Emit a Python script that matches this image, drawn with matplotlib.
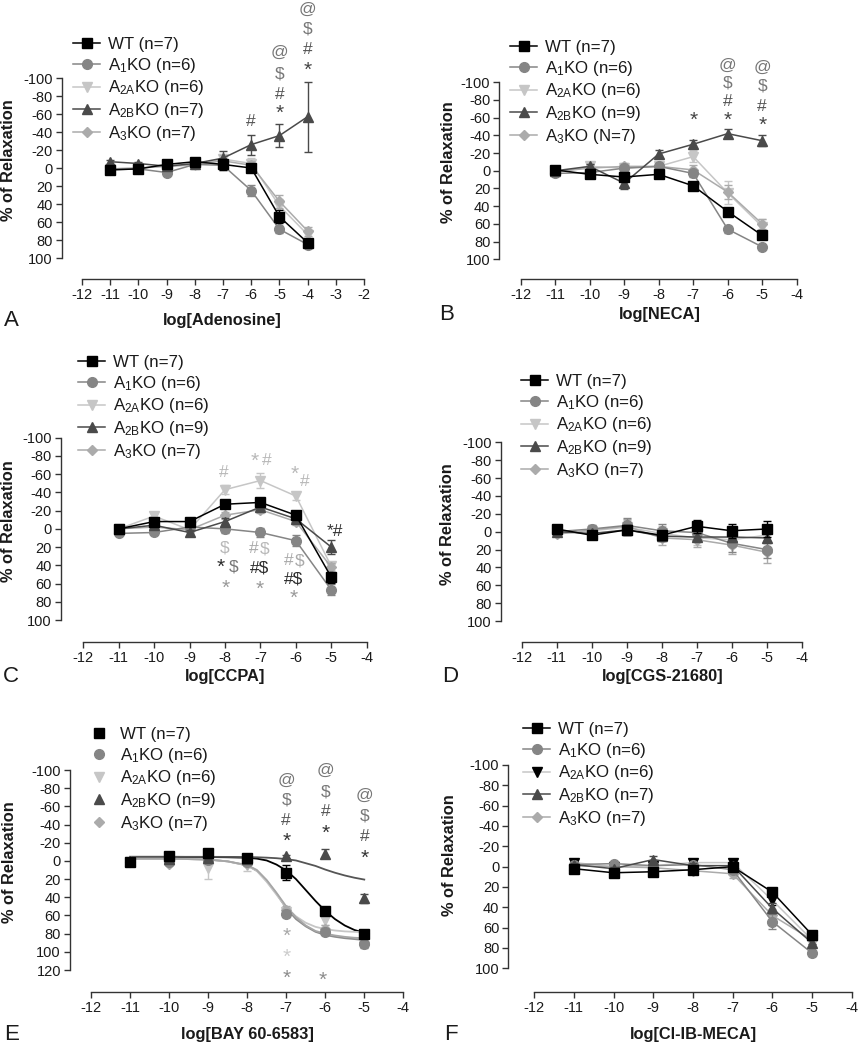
import matplotlib
matplotlib.use('Agg')
import matplotlib.pyplot as plt

plt.rcParams['font.family'] = ['Liberation Sans', 'DejaVu Sans']
plt.rcParams['mathtext.fontset'] = 'custom'
plt.rcParams['mathtext.rm'] = 'Liberation Sans'
plt.rcParams['mathtext.default'] = 'rm'
plt.rcParams['axes.unicode_minus'] = False

# ---------------- data ----------------
groups = ['WT', 'A1', 'A2A', 'A2B', 'A3']
names = ['WT', 'A$_1$KO', 'A$_{2A}$KO', 'A$_{2B}$KO', 'A$_3$KO']

# A: adenosine
ade_x = [-11, -10, -9, -8, -7, -6, -5, -4]
ade_n = ['n=7', 'n=6', 'n=6', 'n=7', 'n=7']
ade_wt = [2, 1, -4, -7, -4, 0, 54, 83]
ade_wt_err = [3, 3, 3, 4, 6, 4, 7, 4]
ade_a1 = [2, 1, 5, -4, -3, 25, 68, 85]
ade_a1_err = [2, 2, 3, 4, 5, 6, 4, 3]
ade_a2a = [1, 0, -2, -3, -10, -5, 42, 74]
ade_a2a_err = [2, 2, 3, 4, 6, 6, 8, 5]
ade_a2b = [-7, -5, -2, -5, -11, -26, -36, -57]
ade_a2b_err = [2, 2, 3, 4, 8, 11, 13, 39]
ade_a3 = [1, 0, -2, -4, -8, -3, 37, 70]
ade_a3_err = [2, 2, 3, 4, 6, 5, 7, 5]

# B: NECA
neca_x = [-11, -10, -9, -8, -7, -6, -5]
neca_n = ['n=7', 'n=6', 'n=6', 'n=9', 'N=7']
neca_wt = [-1, 4, 7, 4, 17, 46, 73]
neca_wt_err = [3, 3, 4, 3, 3, 3, 3]
neca_a1 = [3, 2, -3, -5, 3, 66, 86]
neca_a1_err = [2, 3, 4, 3, 4, 4, 2]
neca_a2a = [2, -5, -3, -5, -16, 25, 63]
neca_a2a_err = [2, 4, 4, 4, 6, 13, 8]
neca_a2b = [0, -5, 14, -19, -30, -42, -34]
neca_a2b_err = [2, 3, 7, 5, 5, 5, 6]
neca_a3 = [1, -3, -5, -5, -1, 24, 60]
neca_a3_err = [2, 3, 4, 4, 5, 8, 6]

# C: CCPA
ccpa_x = [-11, -10, -9, -8, -7, -6, -5]
ccpa_n = ['n=7', 'n=6', 'n=6', 'n=9', 'n=7']
ccpa_wt = [0, -8, -8, -27, -29, -15, 53]
ccpa_wt_err = [4, 4, 4, 4, 4, 4, 6]
ccpa_a1 = [5, 4, -2, 0, 4, 13, 67]
ccpa_a1_err = [2, 2, 3, 5, 5, 6, 6]
ccpa_a2a = [0, -14, 1, -43, -53, -36, 41]
ccpa_a2a_err = [2, 4, 4, 5, 8, 4, 4]
ccpa_a2b = [0, -4, 4, -8, -24, -11, 20]
ccpa_a2b_err = [2, 3, 3, 4, 4, 4, 8]
ccpa_a3 = [0, -2, 1, -15, -21, -8, 42]
ccpa_a3_err = [2, 3, 3, 4, 4, 4, 5]

# D: CGS-21680
cgs_x = [-11, -10, -9, -8, -7, -6, -5]
cgs_n = ['n=7', 'n=6', 'n=6', 'n=9', 'n=7']
cgs_wt = [-3, 4, -2, 4, -6, -1, -3]
cgs_wt_err = [3, 3, 6, 5, 7, 8, 9]
cgs_a1 = [0, -3, -7, -1, 1, 13, 20]
cgs_a1_err = [2, 5, 8, 8, 8, 10, 10]
cgs_a2a = [2, -1, -5, 2, 7, 9, 4]
cgs_a2a_err = [2, 4, 8, 8, 8, 8, 8]
cgs_a2b = [0, 2, -2, 5, 6, 6, 7]
cgs_a2b_err = [2, 3, 5, 5, 5, 6, 6]
cgs_a3 = [3, -2, -6, 7, 9, 15, 23]
cgs_a3_err = [2, 5, 8, 8, 8, 10, 12]

# E: BAY 60-6583 (points + fitted curves)
bay_x = [-11, -10, -9, -8, -7, -6, -5]
bay_n = ['n=7', 'n=6', 'n=6', 'n=9', 'n=7']
bay_wt = [1, -5, -9, -3, 13, 55, 80]
bay_wt_err = [2, 2, 3, 4, 8, 4, 3]
bay_a1 = [1, 1, -1, 1, 58, 78, 91]
bay_a1_err = [2, 2, 3, 3, 4, 4, 5]
bay_a2a = [1, 0, 8, 5, 56, 65, 85]
bay_a2a_err = [2, 2, 12, 6, 5, 5, 4]
bay_a2b = [0, -2, -3, -2, -5, -8, 41]
bay_a2b_err = [1, 1, 1, 2, 2, 5, 5]
bay_a3 = [0, 3, -1, 3, 54, 75, 89]
bay_a3_err = [2, 2, 3, 3, 4, 4, 4]
bay_fit_x = [-11, -10, -9, -8.5, -8, -7.75, -7.5, -7.25, -7, -6.75, -6.5, -6.25, -6, -5.75, -5.5, -5.25, -5]
bay_fit_wt = [-4.5, -4.5, -4.3, -4, -3.5, -2.5, -0.5, 4, 10.5, 20, 32, 44, 55, 64, 71, 76, 79]
bay_fit_a1 = [-2.5, -2.5, -1.5, 0.5, 5, 11, 22, 36, 52, 64, 72, 78, 81.5, 83.5, 85, 86, 87]
bay_fit_a2a = [-2.5, -2.5, -1.5, 0.5, 5, 11, 23, 37, 51, 61, 68, 72.5, 75, 76.5, 77.5, 78, 78.5]
bay_fit_a2b = [-4.5, -4.5, -4.5, -4.4, -4.2, -4, -3.6, -3, -2, -0.5, 2.5, 5.5, 9.5, 13, 16, 18.5, 20.5]
bay_fit_a3 = [-2.5, -2.5, -1.5, 0.5, 4.5, 10, 21, 35, 50, 62, 71, 77, 80, 82, 83.5, 84.5, 85]

# F: Cl-IB-MECA
meca_x = [-11, -10, -9, -8, -7, -6, -5]
meca_n = ['n=7', 'n=6', 'n=6', 'n=7', 'n=7']
meca_wt = [2, 6, 5, 3, 0, 25, 67]
meca_wt_err = [3, 3, 3, 3, 3, 4, 4]
meca_a1 = [-2, -3, -1, -2, 3, 54, 85]
meca_a1_err = [2, 2, 2, 2, 3, 7, 3]
meca_a2a = [-4, 0, -1, -4, -4, 33, 72]
meca_a2a_err = [2, 2, 2, 2, 3, 5, 4]
meca_a2b = [-2, 2, -7, -1, -1, 41, 75]
meca_a2b_err = [2, 2, 3, 3, 3, 5, 4]
meca_a3 = [-1, 0, 1, 4, 7, 48, 72]
meca_a3_err = [2, 2, 2, 3, 4, 6, 4]

# significance marks: (x, y, text, color)
LT, MD, GR, DK = '#b8b8b8', '#999999', '#777777', '#2b2b2b'
ade_marks = [(-6, -52, '#', '#555555'),
             (-5, -128, '@', GR), (-5, -104, '$', GR), (-5, -82, '#', '#555555'), (-5, -61, '*', '#444444'),
             (-4, -176, '@', GR), (-4, -154, '$', GR), (-4, -132, '#', '#555555'), (-4, -109, '*', '#444444')]
neca_marks = [(-7, -57, '*', '#444444'),
              (-6, -119, '@', GR), (-6, -99, '$', GR), (-6, -78, '#', '#555555'), (-6, -57, '*', '#444444'),
              (-5, -117, '@', GR), (-5, -96, '$', GR), (-5, -73, '#', '#555555'), (-5, -51, '*', '#444444')]
ccpa_marks = [(-8.03, -62, '#', LT), (-8, 21, '$', LT), (-8.12, 42, '*', DK), (-7.76, 42, '$', GR),
              (-7.97, 65, '*', MD),
              (-7.15, -74, '*', LT), (-6.82, -75, '#', LT), (-7.2, 22, '#', '#aaaaaa'), (-6.87, 22, '$', LT),
              (-7.03, 43, '#$', DK), (-7.03, 66, '*', MD),
              (-6.02, -60, '*', LT), (-5.74, -52, '#', LT), (-6.21, 35, '#', '#aaaaaa'), (-5.88, 35, '$', '#aaaaaa'),
              (-6.07, 55, '#$', DK), (-6.05, 76, '*', MD),
              (-4.9, 3, '*#', '#333333')]
bay_marks = [(-7, -89, '@', GR), (-7, -67, '$', GR), (-7, -44, '#', '#555555'), (-7, -21, '*', '#333333'),
             (-7, 83, '*', '#a8a8a8'), (-7, 106, '*', '#cccccc'), (-7, 129, '*', '#8c8c8c'),
             (-6, -100, '@', GR), (-6, -76, '$', GR), (-6, -54, '#', '#555555'), (-6, -30, '*', '#333333'),
             (-6.06, 131, '*', '#8c8c8c'),
             (-5, -72, '@', GR), (-5, -49, '$', GR), (-5, -27, '#', '#555555'), (-5, -3, '*', '#333333')]

# ---------------- styles ----------------
style = {
    'WT': dict(color='#000000', marker='s', ms=7.5, z=10),
    'A1': dict(color='#858585', marker='o', ms=7, z=6),
    'A2A': dict(color='#c6c6c6', marker='v', ms=7, z=4),
    'A2B': dict(color='#4a4a4a', marker='^', ms=7, z=7),
    'A3': dict(color='#ababab', marker='D', ms=4.8, z=5),
}

W, H = 859, 1050
fig = plt.figure(figsize=(W / 100, H / 100), dpi=100)


def px(x, y):
    return x / W, 1 - y / H


def make_axes(box, xlim, ylim, xticks, yticks):
    l, r, t, b = box
    ax = fig.add_axes([l / W, 1 - b / H, (r - l) / W, (b - t) / H])
    ax.set_xlim(*xlim)
    ax.set_ylim(*ylim)
    for s in ['top', 'right']:
        ax.spines[s].set_visible(False)
    for s in ['left', 'bottom']:
        ax.spines[s].set_linewidth(1.0)
        ax.spines[s].set_color('#333333')
    ax.spines['left'].set_bounds(yticks[0], yticks[-1])
    ax.spines['bottom'].set_bounds(xticks[0], xticks[-1])
    ax.set_xticks(xticks)
    ax.set_yticks(yticks)
    ax.tick_params(direction='out', length=4.5, width=1.0, color='#333333',
                   labelsize=10.5, labelcolor='#1a1a1a', pad=2)
    ax.patch.set_visible(False)
    return ax


def draw_series(ax, x, series, errs, lines=True, overrides=None):
    for g, y, e in zip(groups, series, errs):
        st = dict(style[g])
        if overrides and g in overrides:
            st.update(overrides[g])
        mcol = st.get('mcolor', st['color'])
        ax.errorbar(x, y, yerr=e, fmt='none', ecolor=mcol, elinewidth=1.0,
                    capsize=3, capthick=1.0, zorder=st['z'])
        ax.plot(x, y, color=st['color'], lw=1.1 if lines else 0,
                marker=st['marker'], ms=st['ms'], mfc=mcol, mec=mcol,
                zorder=st['z'] + 0.5)


def add_legend(ax, labels, anchor, lines=True, overrides=None):
    handles = []
    for g in groups:
        st = dict(style[g])
        if overrides and g in overrides:
            st.update(overrides[g])
        mcol = st.get('mcolor', st['color'])
        h, = ax.plot([], [], color=st['color'], lw=1.1 if lines else 0,
                     marker=st['marker'], ms=st['ms'], mfc=mcol, mec=mcol)
        handles.append(h)
    leg = ax.legend(handles, labels, loc='upper left', bbox_to_anchor=px(*anchor),
                    bbox_transform=fig.transFigure, frameon=False, fontsize=12.2,
                    handlelength=1.6, handletextpad=0.45, labelspacing=0.22,
                    borderpad=0, borderaxespad=0)
    for t in leg.get_texts():
        t.set_color('#1a1a1a')


def add_marks(ax, marks):
    for x, y, s, c in marks:
        fs = 15 if s == '*' else 12.5
        ax.text(x, y, s, ha='center', va='center', fontsize=fs, color=c, zorder=20)


def add_labels(letter, lpos, xlabel, xpos, ypos):
    fig.text(*px(*lpos), letter, fontsize=16, ha='center', va='center', color='#1a1a1a')
    fig.text(*px(*xpos), xlabel, fontsize=11.8, fontweight='bold', ha='center', va='center', color='#1a1a1a')
    fig.text(*px(*ypos), '% of Relaxation', fontsize=11.8, fontweight='bold', rotation=90,
             ha='center', va='center', color='#1a1a1a')


yt = list(range(-100, 101, 20))

# A
ax = make_axes((62, 364, 78, 279), (-12.71, -2), (123.3, -100), list(range(-12, -1)), yt)
draw_series(ax, ade_x, [ade_wt, ade_a1, ade_a2a, ade_a2b, ade_a3],
            [ade_wt_err, ade_a1_err, ade_a2a_err, ade_a2b_err, ade_a3_err])
add_legend(ax, [f'{a} ({n})' for a, n in zip(names, ade_n)], (73, 37))
add_marks(ax, ade_marks)
add_labels('A', (11, 320), 'log[Adenosine]', (222, 320), (9, 160))

# B
ax = make_axes((499.3, 796.7, 82.3, 279.3), (-12.62, -4), (122.6, -100), list(range(-12, -3)), yt)
draw_series(ax, neca_x, [neca_wt, neca_a1, neca_a2a, neca_a2b, neca_a3],
            [neca_wt_err, neca_a1_err, neca_a2a_err, neca_a2b_err, neca_a3_err])
add_legend(ax, [f'{a} ({n})' for a, n in zip(names, neca_n)], (510, 40))
add_marks(ax, neca_marks)
add_labels('B', (447, 314), 'log[NECA]', (660, 314), (449, 162))

# C
ax = make_axes((61, 366.7, 437.7, 641.7), (-12.63, -4), (123.8, -100), list(range(-12, -3)), yt)
draw_series(ax, ccpa_x, [ccpa_wt, ccpa_a1, ccpa_a2a, ccpa_a2b, ccpa_a3],
            [ccpa_wt_err, ccpa_a1_err, ccpa_a2a_err, ccpa_a2b_err, ccpa_a3_err])
add_legend(ax, [f'{a} ({n})' for a, n in zip(names, ccpa_n)], (78, 355))
add_marks(ax, ccpa_marks)
add_labels('C', (11, 676), 'log[CCPA]', (225, 676), (9, 521))

# D
ax = make_axes((501, 801.7, 442.3, 642.3), (-12.59, -4), (123.8, -100), list(range(-12, -3)), yt)
draw_series(ax, cgs_x, [cgs_wt, cgs_a1, cgs_a2a, cgs_a2b, cgs_a3],
            [cgs_wt_err, cgs_a1_err, cgs_a2a_err, cgs_a2b_err, cgs_a3_err])
add_legend(ax, [f'{a} ({n})' for a, n in zip(names, cgs_n)], (521, 374))
add_labels('D', (450, 676), 'log[CGS-21680]', (663, 676), (448, 524))

# E
ax = make_axes((70, 403.3, 770, 992.3), (-12.54, -4), (144.5, -100), list(range(-12, -3)),
               list(range(-100, 121, 20)))
fit_col = {'WT': '#000000', 'A1': '#8c8c8c', 'A2A': '#c6c6c6', 'A2B': '#555555', 'A3': '#a6a6a6'}
for g, fy in zip(groups, [bay_fit_wt, bay_fit_a1, bay_fit_a2a, bay_fit_a2b, bay_fit_a3]):
    ax.plot(bay_fit_x, fy, color=fit_col[g], lw=1.3, zorder=3)
draw_series(ax, bay_x, [bay_wt, bay_a1, bay_a2a, bay_a2b, bay_a3],
            [bay_wt_err, bay_a1_err, bay_a2a_err, bay_a2b_err, bay_a3_err], lines=False)
add_legend(ax, [f'{a} ({n})' for a, n in zip(names, bay_n)], (85, 727), lines=False)
add_marks(ax, bay_marks)
add_labels('E', (12, 1035), 'log[BAY 60-6583]', (247, 1035), (10, 862))

# F
f_over = {'A2A': dict(mcolor='#000000')}
ax = make_axes((508.3, 851.7, 765, 991.7), (-12.65, -4), (123, -100), list(range(-12, -3)), yt)
draw_series(ax, meca_x, [meca_wt, meca_a1, meca_a2a, meca_a2b, meca_a3],
            [meca_wt_err, meca_a1_err, meca_a2a_err, meca_a2b_err, meca_a3_err], overrides=f_over)
add_legend(ax, [f'{a} ({n})' for a, n in zip(names, meca_n)], (523, 722), overrides=f_over)
add_labels('F', (451, 1035), 'log[Cl-IB-MECA]', (693, 1035), (450, 855))

fig.savefig('out.png', dpi=100)
